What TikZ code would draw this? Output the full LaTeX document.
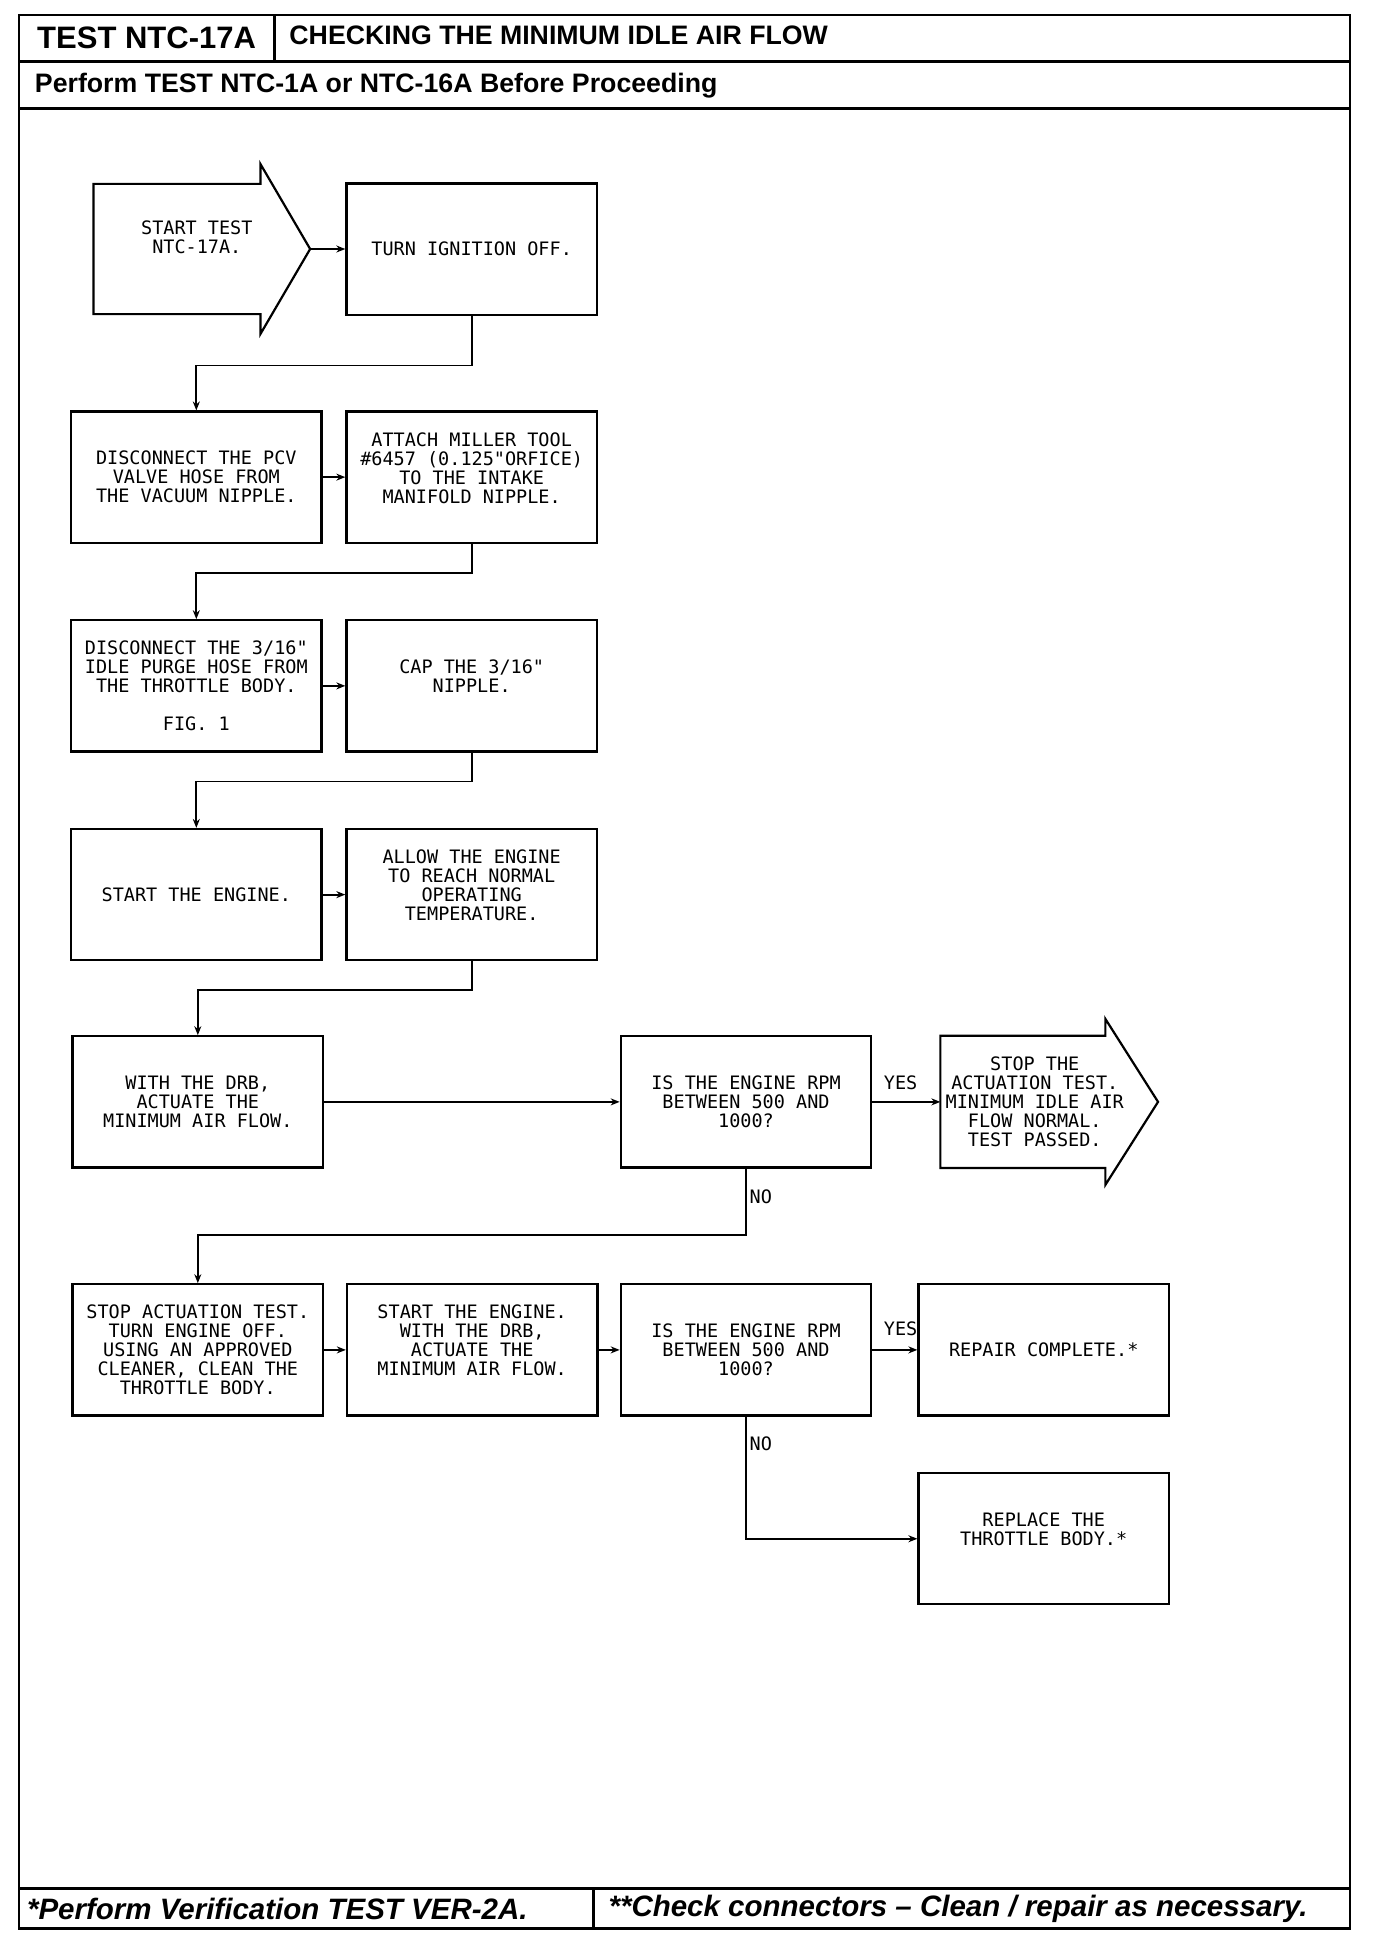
\documentclass[tikz,border=0pt]{standalone}
\usepackage{fontspec}
\usetikzlibrary{arrows.meta}
\setmainfont{Liberation Sans}
\newfontfamily\plotfont{DejaVu Sans Mono}
\begin{document}
\begin{tikzpicture}[x=0.994pt,y=-0.994pt,
  frame/.style={line width=2.4pt},
  box/.style={draw, line width=2.2pt, minimum width=250.5pt, minimum height=131.2pt,
    inner sep=0pt, align=center, font=\plotfont\fontsize{18.5}{19}\selectfont},
  txt/.style={inner sep=0pt, align=center, font=\plotfont\fontsize{18.5}{19}\selectfont},
  lbl/.style={inner sep=0pt, font=\plotfont\fontsize{18.5}{19}\selectfont},
  conn/.style={line width=1.8pt, -{Stealth[length=9pt,width=7pt]}},
  bigarrow/.style={line width=2.2pt, line join=miter}]
\useasboundingbox (0,0) rectangle (1384.3,1957.7);
% frame
\draw[frame] (19,15) rectangle (1358,1940);
\draw[frame] (276,15) -- (276,62);
\draw[frame] (19,62) -- (1358,62);
\draw[frame] (19,109) -- (1358,109);
\draw[frame] (19,1900) -- (1358,1900);
\draw[frame] (597,1900) -- (597,1940);
\node[inner sep=0pt, font=\bfseries\fontsize{31}{34}\selectfont] (hd) at (147.5,38) {TEST NTC-17A};
\node[inner sep=0pt, anchor=west, font=\bfseries\fontsize{26.7}{30}\selectfont] (title) at (291,36) {CHECKING THE MINIMUM IDLE AIR FLOW};
\node[inner sep=0pt, anchor=west, font=\bfseries\fontsize{26.7}{30}\selectfont] (pre) at (35,86) {Perform TEST NTC-1A or NTC-16A Before Proceeding};
\node[inner sep=0pt, anchor=west, font=\bfseries\itshape\fontsize{29.5}{32}\selectfont] (f1) at (27,1920) {*Perform Verification TEST VER-2A.};
\node[inner sep=0pt, anchor=west, font=\bfseries\itshape\fontsize{29.5}{32}\selectfont] (f2) at (612,1920) {**Check connectors – Clean / repair as necessary.};
% start arrow
\draw[bigarrow] (94,185) -- (262,185) -- (262,165) -- (312,250.5) -- (262,336) -- (262,316) -- (94,316) -- cycle;
\coordinate (stip) at (312,250.5);
\node[txt] (st) at (198,239) {START TEST\\NTC-17A.};
% boxes
\node[box] (b2) at (474.5,250.5) {TURN IGNITION OFF.};
\node[box] (b3) at (197.5,480) {DISCONNECT THE PCV\\VALVE HOSE FROM\\THE VACUUM NIPPLE.};
\node[box] (b4) at (474.5,480) {ATTACH MILLER TOOL\\\#6457 (0.125"ORFICE)\\TO THE INTAKE\\MANIFOLD NIPPLE.\\\mbox{}};
\node[box] (b5) at (197.5,690) {DISCONNECT THE 3/16"\\IDLE PURGE HOSE FROM\\THE THROTTLE BODY.\\[19pt]FIG. 1};
\node[box] (b6) at (474.5,690) {CAP THE 3/16"\\NIPPLE.\\\mbox{}};
\node[box] (b7) at (197.5,900) {START THE ENGINE.};
\node[box] (b8) at (474.5,900) {ALLOW THE ENGINE\\TO REACH NORMAL\\OPERATING\\TEMPERATURE.\\\mbox{}};
\node[box] (b9) at (199,1108.5) {WITH THE DRB,\\ACTUATE THE\\MINIMUM AIR FLOW.};
\node[box] (b10) at (750.5,1108.5) {IS THE ENGINE RPM\\BETWEEN 500 AND\\1000?};
% end arrow
\draw[bigarrow] (946,1042) -- (1112,1042) -- (1112,1025) -- (1165,1108.5) -- (1112,1192) -- (1112,1175) -- (946,1175) -- cycle;
\coordinate (ein) at (946,1108.5);
\node[txt] (en) at (1041,1108.5) {STOP THE\\ACTUATION TEST.\\MINIMUM IDLE AIR\\FLOW NORMAL.\\TEST PASSED.};
\node[box] (b12) at (199,1358) {STOP ACTUATION TEST.\\TURN ENGINE OFF.\\USING AN APPROVED\\CLEANER, CLEAN THE\\THROTTLE BODY.};
\node[box] (b13) at (475,1358) {START THE ENGINE.\\WITH THE DRB,\\ACTUATE THE\\MINIMUM AIR FLOW.\\\mbox{}};
\node[box] (b14) at (750.5,1358) {IS THE ENGINE RPM\\BETWEEN 500 AND\\1000?};
\node[box] (b15) at (1050,1358) {REPAIR COMPLETE.*};
\node[box] (b16) at (1050,1548) {REPLACE THE\\THROTTLE BODY.*\\\mbox{}};
% connectors
\draw[conn] (stip) -- (b2.west);
\draw[conn] (b2.south) -- ++(0,50) -| (b3.north);
\draw[conn] (b3.east) -- (b4.west);
\draw[conn] (b4.south) -- ++(0,29) -| (b5.north);
\draw[conn] (b5.east) -- (b6.west);
\draw[conn] (b6.south) -- ++(0,29) -| (b7.north);
\draw[conn] (b7.east) -- (b8.west);
\draw[conn] (b8.south) -- ++(0,29) -| (b9.north);
\draw[conn] (b9.east) -- (b10.west);
\draw[conn] (b10.east) -- (ein);
\draw[conn] (b10.south) -- ++(0,67) -| (b12.north);
\draw[conn] (b12.east) -- (b13.west);
\draw[conn] (b13.east) -- (b14.west);
\draw[conn] (b14.east) -- (b15.west);
\draw[conn] (b14.south) |- (b16.west);
% labels
\node[lbl] (y1) at (906,1089) {YES};
\node[lbl, anchor=west] (n1) at (754,1204) {NO};
\node[lbl] (y2) at (906,1337) {YES};
\node[lbl, anchor=west] (n2) at (754,1452) {NO};
\end{tikzpicture}
\end{document}
